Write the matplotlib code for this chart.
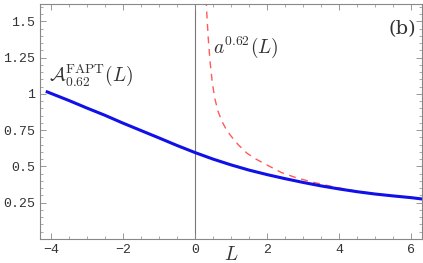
import numpy as np
import matplotlib
matplotlib.use('Agg')
import matplotlib.pyplot as plt
from matplotlib.ticker import MultipleLocator

# data
L_fapt = [-4.1, -3.5, -3.0, -2.5, -2.0, -1.5, -1.0, -0.5, 0.0, 0.5, 1.0, 1.5,
          2.0, 2.5, 3.0, 3.5, 4.0, 4.5, 5.0, 5.5, 6.0, 6.3]
A_fapt = [1.014, 0.955, 0.903, 0.853, 0.799, 0.748, 0.697, 0.645, 0.596, 0.551,
          0.511, 0.475, 0.444, 0.416, 0.39, 0.366, 0.345, 0.326, 0.31, 0.297,
          0.285, 0.276]

L_pert = [0.30, 0.33, 0.37, 0.42, 0.48, 0.55, 0.64, 0.75, 0.88, 1.0, 1.2, 1.45,
          1.7, 2.0, 2.4, 2.8, 3.3, 3.8, 4.3, 5.0, 5.6, 6.3]
a_pert = [1.70, 1.55, 1.38, 1.22, 1.08, 0.97, 0.88, 0.81, 0.75, 0.71, 0.65, 0.59,
          0.55, 0.51, 0.458, 0.423, 0.39, 0.362, 0.338, 0.311, 0.293, 0.276]

xticks = [-4, -2, 0, 2, 4, 6]
xticklabels = ['\u22124', '\u22122', '0', '2', '4', '6']
yticks = [0.25, 0.5, 0.75, 1.0, 1.25, 1.5]
yticklabels = ['0.25', '0.5', '0.75', '1', '1.25', '1.5']

plt.rcParams['mathtext.fontset'] = 'cm'

fig = plt.figure(figsize=(4.23, 2.63), dpi=100)
ax = fig.add_axes([40 / 423, 1 - 239 / 263, 382 / 423, 235 / 263])

ax.axvline(0, color='#777777', lw=0.8, zorder=1)
ax.plot(L_pert, a_pert, color='#ff5a5a', lw=1.0, dashes=(5, 4), zorder=2)
ax.plot(L_fapt, A_fapt, color='#1010e8', lw=2.2, zorder=3)

ax.set_xlim(-4.3, 6.3)
ax.set_ylim(0, 1.62)
ax.set_xticks(xticks)
ax.set_xticklabels(xticklabels)
ax.set_yticks(yticks)
ax.set_yticklabels(yticklabels)
ax.xaxis.set_minor_locator(MultipleLocator(0.5))
ax.yaxis.set_minor_locator(MultipleLocator(0.05))

for s in ax.spines.values():
    s.set_color('#888888')
    s.set_linewidth(0.8)
ax.tick_params(which='both', direction='in', colors='#888888', labelcolor='#333333',
               top=True, right=True, labelsize=9.5)
ax.tick_params(which='major', length=4, width=0.6)
ax.tick_params(which='minor', length=2, width=0.5)
for lab in ax.get_xticklabels() + ax.get_yticklabels():
    lab.set_family('Liberation Mono')

ax.text(1.0, -0.11, r'$L$', fontsize=14, ha='center', va='center', color='#333333')
ax.text(-4.05, 1.04, r'$\mathcal{A}_{0.62}^{\rm FAPT}(L)$', fontsize=14,
        ha='left', va='bottom', color='#333333')
ax.text(0.5, 1.32, r'$a^{0.62}(L)$', fontsize=14, ha='left', va='center',
        color='#333333')
ax.text(6.15, 1.45, '(b)', fontsize=14, ha='right', va='center',
        family='DejaVu Serif', color='#333333')

fig.savefig('out.png', dpi=100)
